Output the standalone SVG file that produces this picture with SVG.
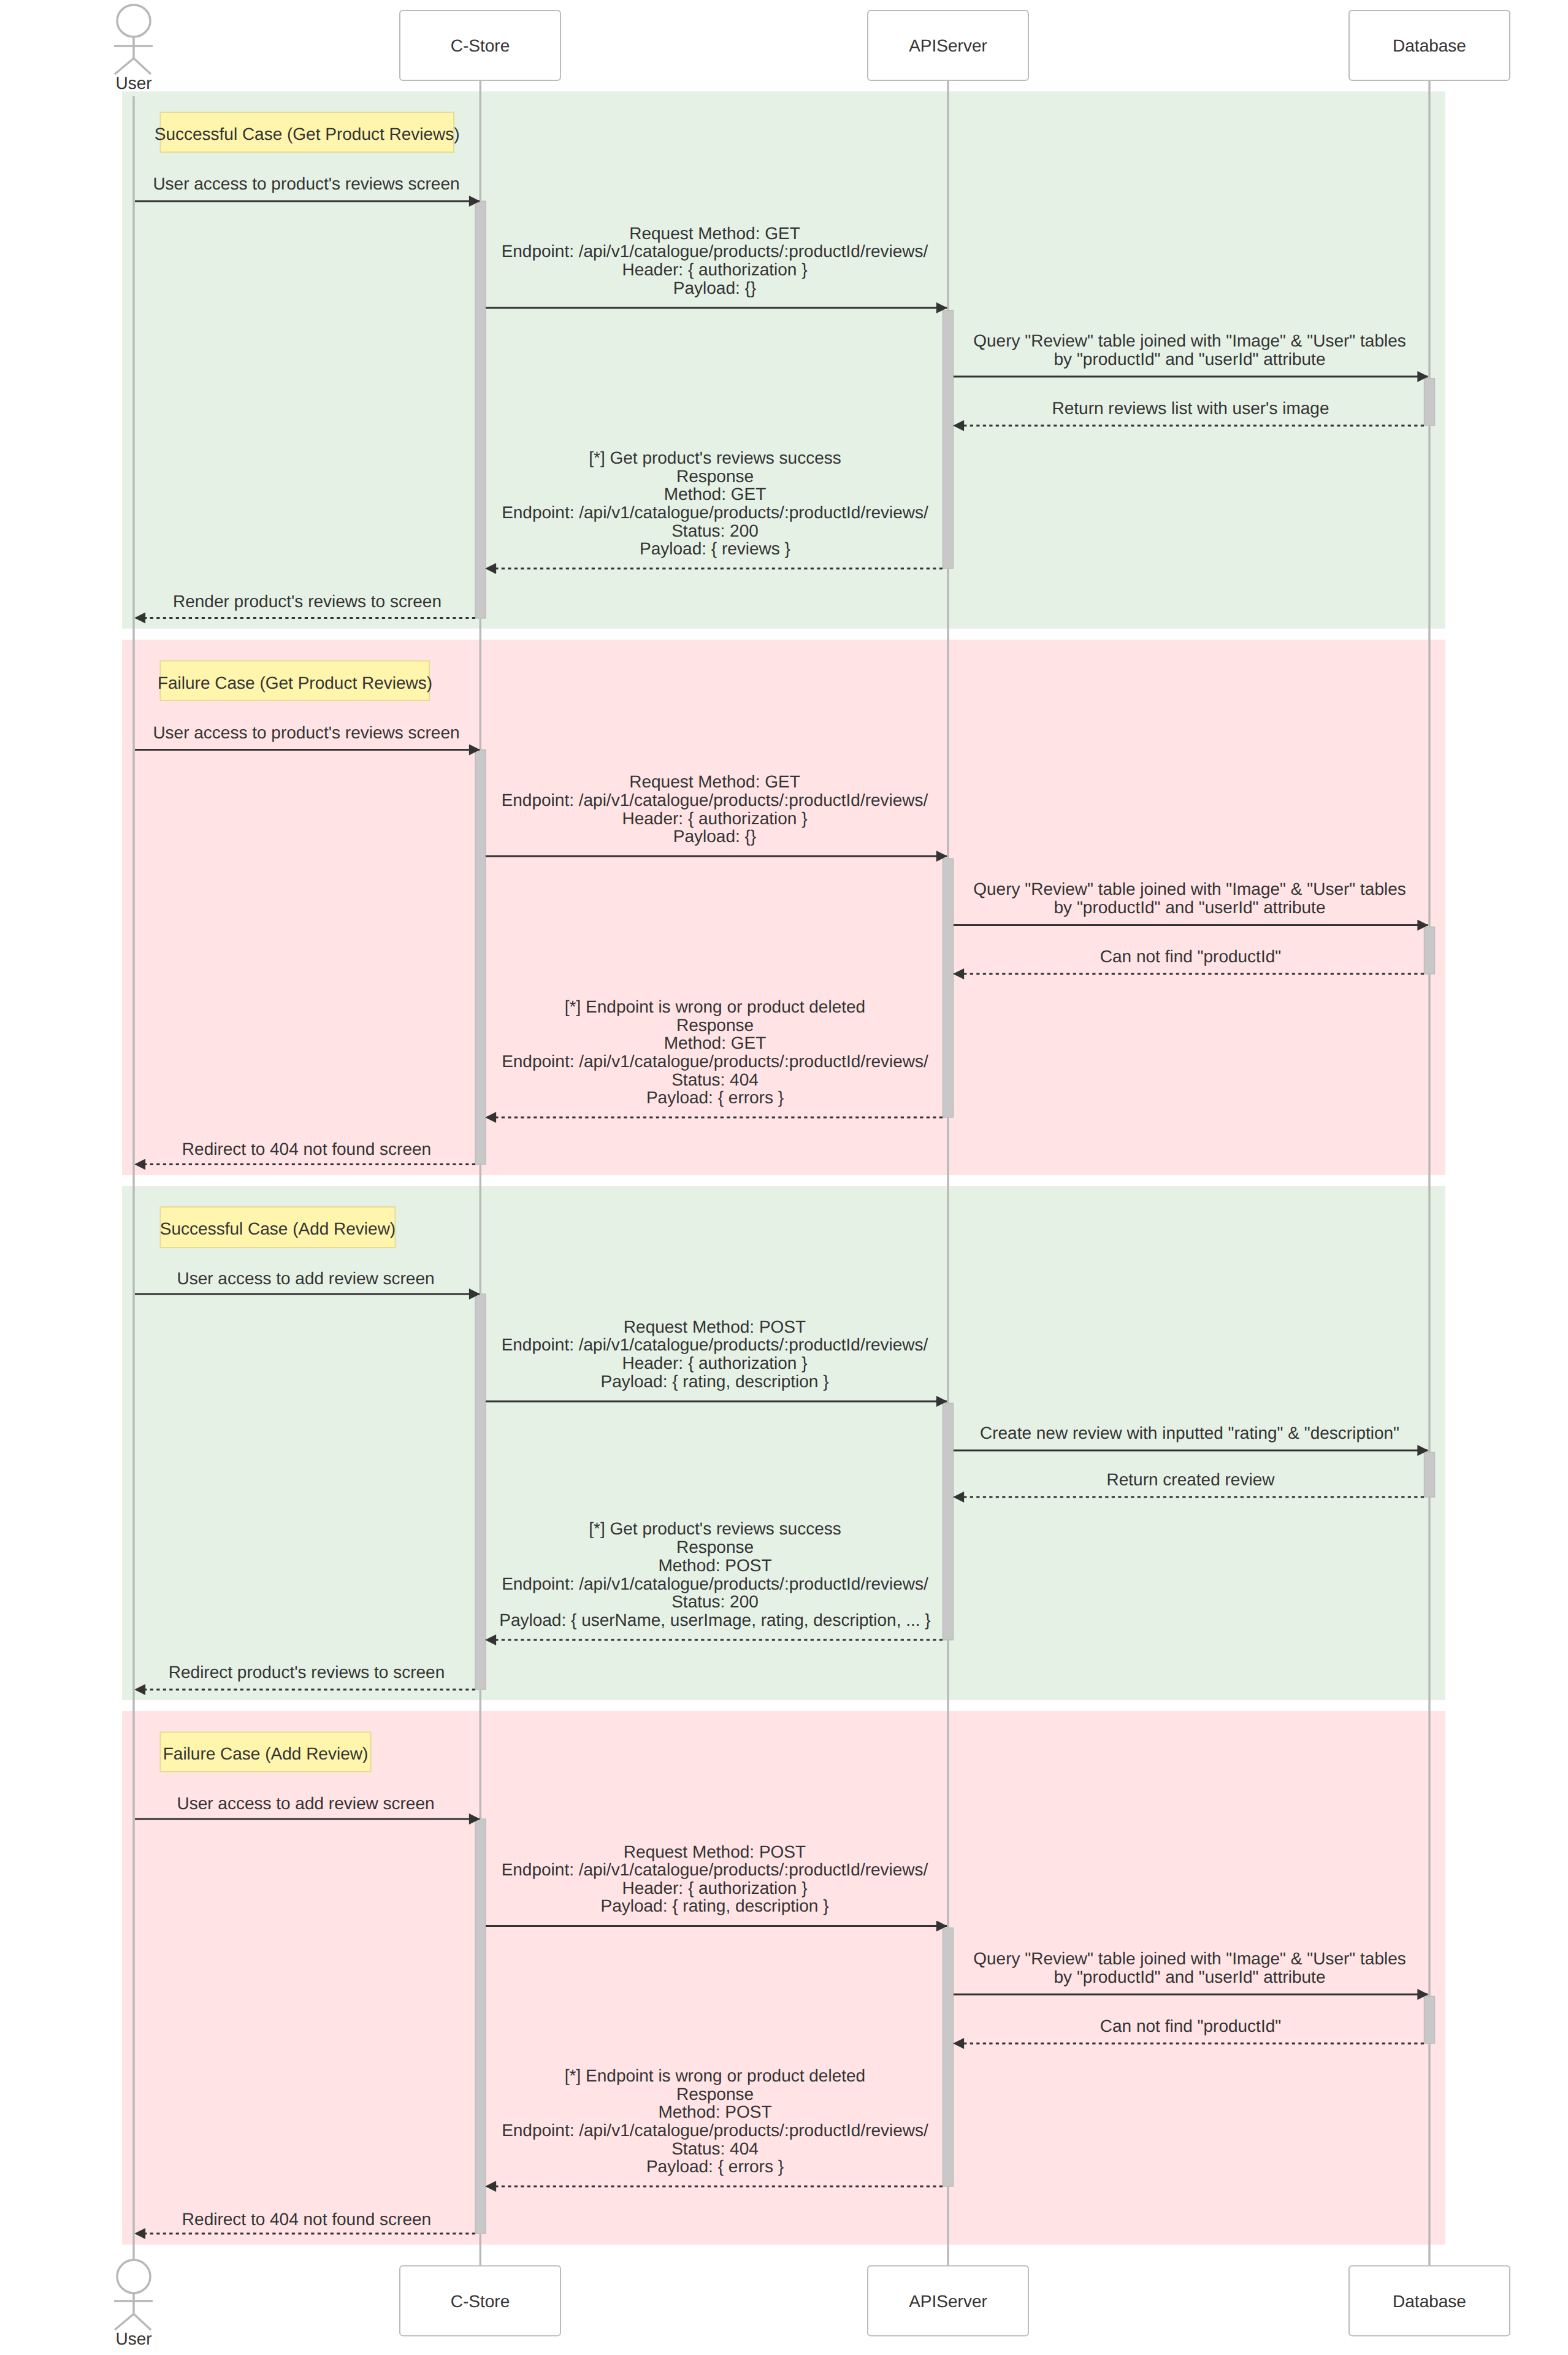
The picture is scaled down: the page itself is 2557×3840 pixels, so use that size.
<svg xmlns="http://www.w3.org/2000/svg" width="2557" height="3840" viewBox="0 0 2557 3840">
<style>
text{font-family:"Liberation Sans",Arial,sans-serif;font-size:28px;fill:#333;text-anchor:middle;text-rendering:geometricPrecision}
.box{fill:#fff;stroke:#bbb;stroke-width:2}
.life{stroke:#b8b8b8;stroke-width:3.4;fill:none}
.stick{stroke:#b8b8b8;stroke-width:3.5;fill:none}
.act{fill:#c8c8c8;stroke:#bdbdbd;stroke-width:1.5}
.ok{fill:#e6f1e6}
.bad{fill:#ffe3e5}
.note{fill:#fff5ad;stroke:#e6dc95;stroke-width:2}
.msg{stroke:#333;stroke-width:2.8;fill:none;marker-end:url(#arrow)}
.ret{stroke:#333;stroke-width:2.8;stroke-dasharray:5.25 5.25;fill:none;marker-end:url(#arrow)}
</style>
<defs>
<marker id="arrow" viewBox="0 0 10 10" refX="9.5" refY="5" markerWidth="19" markerHeight="18" markerUnits="userSpaceOnUse" orient="auto"><path d="M0 0L10 5L0 10z" fill="#333"/></marker>
</defs>
<g id="sections">
<rect class="ok" x="199" y="149" width="2158" height="876"/>
<rect class="bad" x="199" y="1043" width="2158" height="873"/>
<rect class="ok" x="199" y="1934" width="2158" height="838"/>
<rect class="bad" x="199" y="2790" width="2158" height="870"/>
</g>
<g id="lifelines">
<path class="life" d="M218 157V3685"/>
<path class="life" d="M783.3 131V3694.5"/>
<path class="life" d="M1546 131V3694.5"/>
<path class="life" d="M2331 131V3694.5"/>
</g>
<g id="activations">
<rect class="act" x="775" y="328" width="17" height="680"/>
<rect class="act" x="1537.5" y="506" width="17" height="421"/>
<rect class="act" x="2322.5" y="617" width="17" height="77"/>
<rect class="act" x="775" y="1222.5" width="17" height="676"/>
<rect class="act" x="1537.5" y="1400" width="17" height="422"/>
<rect class="act" x="2322.5" y="1511.5" width="17" height="76.5"/>
<rect class="act" x="775" y="2110" width="17" height="645"/>
<rect class="act" x="1537.5" y="2288" width="17" height="386"/>
<rect class="act" x="2322.5" y="2368" width="17" height="73"/>
<rect class="act" x="775" y="2966" width="17" height="676"/>
<rect class="act" x="1537.5" y="3143.5" width="17" height="421.5"/>
<rect class="act" x="2322.5" y="3255" width="17" height="77"/>
</g>
<g id="actor-user-top"><ellipse class="stick" cx="218" cy="34" rx="27" ry="26"/><path class="stick" d="M218 60V95M186 75H249M218 95L187 121M218 95L246 121"/><text x="218" y="145">User</text></g>
<g id="actor-cstore-top"><rect class="box" x="652" y="17" width="262" height="114" rx="5"/><text x="783" y="84">C-Store</text></g>
<g id="actor-apiserver-top"><rect class="box" x="1415" y="17" width="262" height="114" rx="5"/><text x="1546" y="84">APIServer</text></g>
<g id="actor-database-top"><rect class="box" x="2200" y="17" width="262" height="114" rx="5"/><text x="2331" y="84">Database</text></g>
<g id="actor-user-bottom"><ellipse class="stick" cx="218" cy="3712" rx="27" ry="27"/><path class="stick" d="M218 3739V3773M186 3752H249M218 3773L187 3799M218 3773L246 3799"/><text x="218" y="3823">User</text></g>
<g id="actor-cstore-bottom"><rect class="box" x="652" y="3694.5" width="262" height="114" rx="5"/><text x="783" y="3762">C-Store</text></g>
<g id="actor-apiserver-bottom"><rect class="box" x="1415" y="3694.5" width="262" height="114" rx="5"/><text x="1546" y="3762">APIServer</text></g>
<g id="actor-database-bottom"><rect class="box" x="2200" y="3694.5" width="262" height="114" rx="5"/><text x="2331" y="3762">Database</text></g>
<g id="note-1"><rect class="note" x="261.5" y="183" width="478.5" height="65"/><text x="500.7" y="227.5">Successful Case (Get Product Reviews)</text></g>
<g id="note-2"><rect class="note" x="261.5" y="1077.5" width="438.5" height="64.5"/><text x="481" y="1122.5">Failure Case (Get Product Reviews)</text></g>
<g id="note-3"><rect class="note" x="261.5" y="1968" width="383" height="66"/><text x="453" y="2012.5">Successful Case (Add Review)</text></g>
<g id="note-4"><rect class="note" x="261.5" y="2824.5" width="343" height="64.5"/><text x="433" y="2868.5">Failure Case (Add Review)</text></g>
<g id="connectors">
<path class="msg" d="M220 328H782"/><path class="msg" d="M792 502H1544"/><path class="msg" d="M1555 614H2328.5"/><path class="ret" d="M2322 694H1555"/><path class="ret" d="M1537 927H792"/><path class="ret" d="M775 1007.5H220"/>
<path class="msg" d="M220 1222.5H782"/><path class="msg" d="M792 1396H1544"/><path class="msg" d="M1555 1508.5H2328.5"/><path class="ret" d="M2322 1588H1555"/><path class="ret" d="M1537 1822H792"/><path class="ret" d="M775 1898.5H220"/>
<path class="msg" d="M220 2110H782"/><path class="msg" d="M792 2285H1544"/><path class="msg" d="M1555 2365H2328.5"/><path class="ret" d="M2322 2441H1555"/><path class="ret" d="M1537 2674H792"/><path class="ret" d="M775 2755H220"/>
<path class="msg" d="M220 2966H782"/><path class="msg" d="M792 3140.5H1544"/><path class="msg" d="M1555 3252H2328.5"/><path class="ret" d="M2322 3332H1555"/><path class="ret" d="M1537 3565H792"/><path class="ret" d="M775 3642H220"/>
</g>
<g id="labels" transform="translate(0 1.5)">
<text x="499.5" y="307">User access to product's reviews screen</text>
<text x="1165.5" y="388">Request Method: GET</text><text x="1165.5" y="417.5">Endpoint: /api/v1/catalogue/products/:productId/reviews/</text><text x="1165.5" y="447">Header: { authorization }</text><text x="1165.5" y="477.5">Payload: {}</text>
<text x="1940" y="563">Query "Review" table joined with "Image" &amp; "User" tables</text><text x="1940" y="593">by "productId" and "userId" attribute</text>
<text x="1941.5" y="673">Return reviews list with user's image</text>
<text x="1166" y="754">[*] Get product's reviews success</text><text x="1166" y="784">Response</text><text x="1166" y="813">Method: GET</text><text x="1166" y="843">Endpoint: /api/v1/catalogue/products/:productId/reviews/</text><text x="1166" y="873">Status: 200</text><text x="1166" y="902">Payload: { reviews }</text>
<text x="501" y="988">Render product's reviews to screen</text>

<text x="499.5" y="1202">User access to product's reviews screen</text>
<text x="1165.5" y="1282">Request Method: GET</text><text x="1165.5" y="1312">Endpoint: /api/v1/catalogue/products/:productId/reviews/</text><text x="1165.5" y="1342">Header: { authorization }</text><text x="1165.5" y="1371.5">Payload: {}</text>
<text x="1940" y="1457">Query "Review" table joined with "Image" &amp; "User" tables</text><text x="1940" y="1487">by "productId" and "userId" attribute</text>
<text x="1941.5" y="1567">Can not find "productId"</text>
<text x="1166" y="1649">[*] Endpoint is wrong or product deleted</text><text x="1166" y="1679">Response</text><text x="1166" y="1708">Method: GET</text><text x="1166" y="1738">Endpoint: /api/v1/catalogue/products/:productId/reviews/</text><text x="1166" y="1768">Status: 404</text><text x="1166" y="1797">Payload: { errors }</text>
<text x="500" y="1881">Redirect to 404 not found screen</text>

<text x="498.5" y="2092">User access to add review screen</text>
<text x="1165.5" y="2171">Request Method: POST</text><text x="1165.5" y="2200">Endpoint: /api/v1/catalogue/products/:productId/reviews/</text><text x="1165.5" y="2230">Header: { authorization }</text><text x="1165.5" y="2260">Payload: { rating, description }</text>
<text x="1940" y="2344">Create new review with inputted "rating" &amp; "description"</text>
<text x="1941.5" y="2420">Return created review</text>
<text x="1166" y="2500">[*] Get product's reviews success</text><text x="1166" y="2530">Response</text><text x="1166" y="2560">Method: POST</text><text x="1166" y="2590">Endpoint: /api/v1/catalogue/products/:productId/reviews/</text><text x="1166" y="2619">Status: 200</text><text x="1166" y="2649">Payload: { userName, userImage, rating, description, ... }</text>
<text x="500" y="2734">Redirect product's reviews to screen</text>

<text x="498.5" y="2948">User access to add review screen</text>
<text x="1165.5" y="3027">Request Method: POST</text><text x="1165.5" y="3056">Endpoint: /api/v1/catalogue/products/:productId/reviews/</text><text x="1165.5" y="3086">Header: { authorization }</text><text x="1165.5" y="3115">Payload: { rating, description }</text>
<text x="1940" y="3201">Query "Review" table joined with "Image" &amp; "User" tables</text><text x="1940" y="3231">by "productId" and "userId" attribute</text>
<text x="1941.5" y="3311">Can not find "productId"</text>
<text x="1166" y="3392">[*] Endpoint is wrong or product deleted</text><text x="1166" y="3422">Response</text><text x="1166" y="3451">Method: POST</text><text x="1166" y="3481">Endpoint: /api/v1/catalogue/products/:productId/reviews/</text><text x="1166" y="3511">Status: 404</text><text x="1166" y="3540">Payload: { errors }</text>
<text x="500" y="3626">Redirect to 404 not found screen</text>
</g>
</svg>
